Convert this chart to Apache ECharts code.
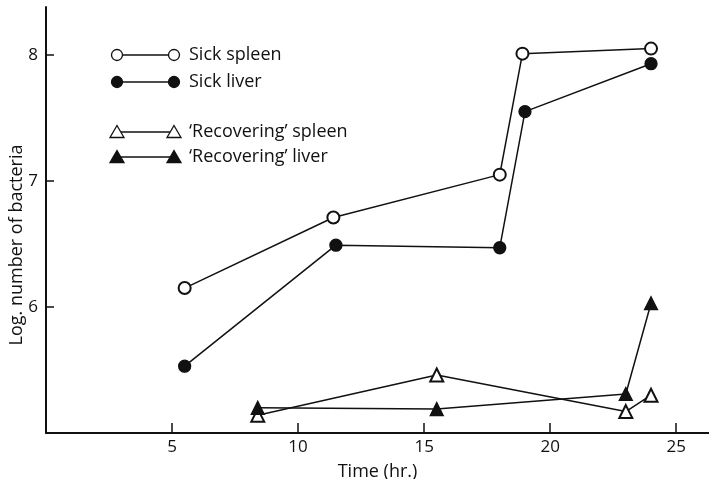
<!DOCTYPE html>
<html>
<head>
<meta charset="utf-8">
<script src="https://cdn.jsdelivr.net/npm/echarts@6/dist/echarts.min.js"></script>
<style>
body { margin: 0; background: #fff; }
#chart { width: 709px; height: 479px; }
</style>
</head>
<body>
<div id="chart"></div>
<script>
// values (time in hr., log number of bacteria)
let sickSpleenX = [5.5, 11.4, 18.0, 18.9, 24.0];
let sickSpleenY = [6.15, 6.71, 7.05, 8.01, 8.05];
let sickLiverX = [5.5, 11.5, 18.0, 19.0, 24.0];
let sickLiverY = [5.53, 6.49, 6.47, 7.55, 7.93];
let recSpleenX = [8.4, 15.5, 23.0, 24.0];
let recSpleenY = [5.14, 5.46, 5.17, 5.3];
let recLiverX = [8.4, 15.5, 23.0, 24.0];
let recLiverY = [5.2, 5.19, 5.31, 6.03];

let xTicks = [5, 10, 15, 20, 25];
let yTicks = [6, 7, 8];

let seriesNames = ['Sick spleen', 'Sick liver', '\u2018Recovering\u2019 spleen', '\u2018Recovering\u2019 liver'];
let seriesSymbols = ['emptyCircle', 'circle', 'emptyTriangle', 'triangle'];

let font = '"Open Sans", Lato, sans-serif';
let ink = '#111';

function pairs(xs, ys)
{
    let out = [];
    for (let i = 0; i < xs.length; i++)
    {
        out.push([xs[i], ys[i]]);
    }
    return out;
}

function lineSeries(name, symbol, xs, ys)
{
    return {
        name: name,
        type: 'line',
        data: pairs(xs, ys),
        symbol: symbol,
        symbolSize: symbol.indexOf('riangle') >= 0 ? 13 : 12,
        showAllSymbol: true,
        lineStyle: { color: ink, width: 1.5 },
        itemStyle: { color: ink, borderColor: ink, borderWidth: 1.3 },
        animation: false,
        z: 3
    };
}

// hand drawn legend: marker — line — marker, then label
function legendRow(y, symbol, label)
{
    let filled = symbol === 'circle' || symbol === 'triangle';
    let kids = [{
        type: 'line',
        shape: { x1: 117, y1: y, x2: 174, y2: y },
        style: { stroke: ink, lineWidth: 1.5 }
    }];
    [117, 174].forEach(cx => {
        if (symbol.indexOf('ircle') >= 0)
        {
            kids.push({
                type: 'circle',
                shape: { cx: cx, cy: y, r: 5.5 },
                style: { fill: filled ? ink : '#fff', stroke: ink, lineWidth: 1.3 },
                z: 2
            });
        }
        else
        {
            kids.push({
                type: 'polygon',
                shape: { points: [[cx, y - 6.5], [cx + 7, y + 5.5], [cx - 7, y + 5.5]] },
                style: { fill: filled ? ink : '#fff', stroke: ink, lineWidth: 1.3 },
                z: 2
            });
        }
    });
    kids.push({
        type: 'text',
        x: 189,
        y: y,
        style: { text: label, font: '18px ' + font, fill: ink, verticalAlign: 'middle' }
    });
    return { type: 'group', children: kids };
}

let myChart = echarts.init(document.getElementById('chart'));

let option = {
    backgroundColor: '#fff',
    animation: false,
    grid: { left: 46, right: 0, top: 7, bottom: 46, containLabel: false, outerBoundsMode: 'none' },
    xAxis: {
        type: 'value',
        min: 0,
        max: 26.3,
        name: 'Time (hr.)',
        nameLocation: 'middle',
        nameGap: 30,
        nameTextStyle: { fontFamily: font, fontSize: 18, color: ink },
        axisLine: { lineStyle: { color: ink, width: 2 } },
        axisTick: { inside: true, length: 10, customValues: xTicks, lineStyle: { color: ink, width: 1.5 } },
        axisLabel: { customValues: xTicks, fontFamily: font, fontSize: 17, color: ink, margin: 6 },
        splitLine: { show: false }
    },
    yAxis: {
        type: 'value',
        min: 5,
        max: 8.38,
        axisLine: { lineStyle: { color: ink, width: 2 } },
        axisTick: { inside: true, length: 8, customValues: yTicks, lineStyle: { color: ink, width: 1.5 } },
        axisLabel: { customValues: yTicks, fontFamily: font, fontSize: 17, color: ink, margin: 8 },
        splitLine: { show: false }
    },
    series: [
        lineSeries(seriesNames[0], seriesSymbols[0], sickSpleenX, sickSpleenY),
        lineSeries(seriesNames[1], seriesSymbols[1], sickLiverX, sickLiverY),
        lineSeries(seriesNames[2], seriesSymbols[2], recSpleenX, recSpleenY),
        lineSeries(seriesNames[3], seriesSymbols[3], recLiverX, recLiverY)
    ],
    graphic: [
        legendRow(55, seriesSymbols[0], seriesNames[0]),
        legendRow(82, seriesSymbols[1], seriesNames[1]),
        legendRow(132, seriesSymbols[2], seriesNames[2]),
        legendRow(157, seriesSymbols[3], seriesNames[3]),
        {
            // y axis title sits a little below the axis centre in the original
            type: 'text',
            x: 17,
            y: 245,
            rotation: Math.PI / 2,
            style: { text: 'Log. number of bacteria', font: '18px ' + font, fill: ink, align: 'center', verticalAlign: 'middle' }
        }
    ]
};

myChart.setOption(option);
</script>
</body>
</html>
